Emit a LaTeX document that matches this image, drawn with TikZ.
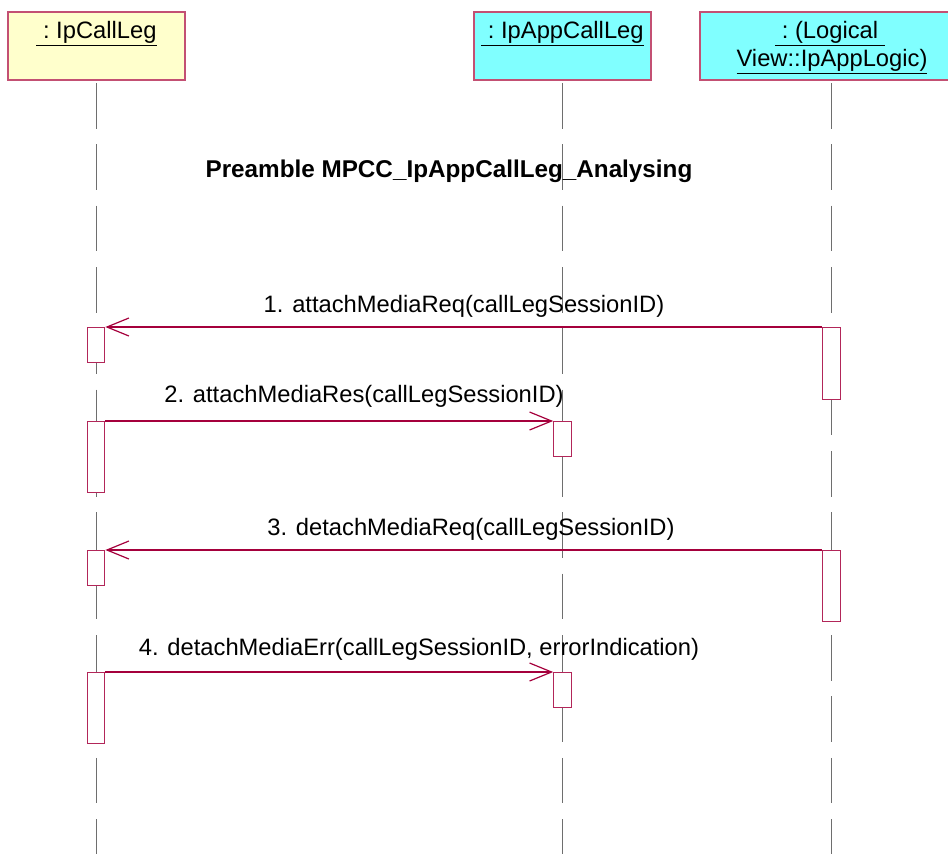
\documentclass[tikz,border=0pt]{standalone}
\usepackage{fontspec}
\setmainfont{Liberation Sans}
\usetikzlibrary{arrows.meta}

\definecolor{umlred}{RGB}{165,0,60}
\definecolor{boxline}{RGB}{195,80,115}
\definecolor{objyellow}{RGB}{255,255,204}
\definecolor{objcyan}{RGB}{128,255,255}
\definecolor{lifegray}{RGB}{110,110,110}

\tikzset{
  every node/.style={font=\fontsize{17.8}{21}\selectfont},
  objbox/.style={draw=boxline,line width=0.8pt,minimum height=68*0.75pt,inner sep=0pt},
  lifeline/.style={draw=lifegray,line width=1.3pt,dash pattern=on 34.1pt off 11.9pt,dash phase=44.1pt},
  actbox/.style={draw=umlred!85,fill=white,line width=0.9pt,minimum width=17.5*0.75pt,inner sep=0pt,anchor=north},
  msg/.style={draw=umlred,line width=0.9pt,-{Straight Barb[length=16.5pt,width=13.5pt,line width=0.9pt]}}
}

\begin{document}
\begin{tikzpicture}[x=0.75pt,y=-0.75pt]
  \useasboundingbox (0,0) rectangle (948,854);

  % Object boxes
  \node[objbox,fill=objyellow,minimum width=177*0.75pt] (cl) at (96.5,46) {};
  \node[objbox,fill=objcyan,minimum width=177*0.75pt] (acl) at (562.5,46) {};
  \node[objbox,fill=objcyan,minimum width=252*0.75pt] (al) at (826,46) {};

  \node[anchor=base] (cltxt) at (96.5,38) {\underline{\ :\ IpCallLeg}};
  \node[anchor=base] (acltxt) at (562.5,38) {\underline{\ :\ IpAppCallLeg}};
  \node[anchor=base] (altxt) at (830,38) {\underline{\ :\ (Logical\ }};
  \node[anchor=base] (altxtb) at (832,66) {\underline{View::IpAppLogic)}};

  % Lifelines
  \coordinate (clend) at (96.5,854);
  \coordinate (aclend) at (562.5,854);
  \coordinate (alend) at (831.5,854);
  \draw[lifeline] (cl.south) -- (clend);
  \draw[lifeline] (acl.south) -- (aclend);
  \draw[lifeline] (cl.south -| alend) -- (alend);

  \node[font=\fontsize{18.2}{21}\selectfont\bfseries,anchor=base] (title) at (449,177)
  {Preamble MPCC\_IpAppCallLeg\_Analysing};

  % Activation boxes
  \foreach \n/\x/\y/\h in {
    a1/96/327/35, b1/831.5/327/72,
    a2/96/421/71, c2/562.5/421/35,
    a3/96/550/35, b3/831.5/550/71,
    a4/96/672/71, c4/562.5/672/35
  }{
    \node[actbox,minimum height=\h*0.75pt] (\n) at (\x,\y) {};
  }

  % Messages
  \draw[msg] (b1.north west) -- (a1.north east);
  \draw[msg] (a2.north east) -- (c2.north west);
  \draw[msg] (b3.north west) -- (a3.north east);
  \draw[msg] (a4.north east) -- (c4.north west);

  \node[anchor=base] (m1) at (464,312) {1. attachMediaReq(callLegSessionID)};
  \node[anchor=base] (m2) at (364,402) {2. attachMediaRes(callLegSessionID)};
  \node[anchor=base] (m3) at (471,535) {3. detachMediaReq(callLegSessionID)};
  \node[anchor=base] (m4) at (419,655) {4. detachMediaErr(callLegSessionID, errorIndication)};
\end{tikzpicture}
\end{document}
